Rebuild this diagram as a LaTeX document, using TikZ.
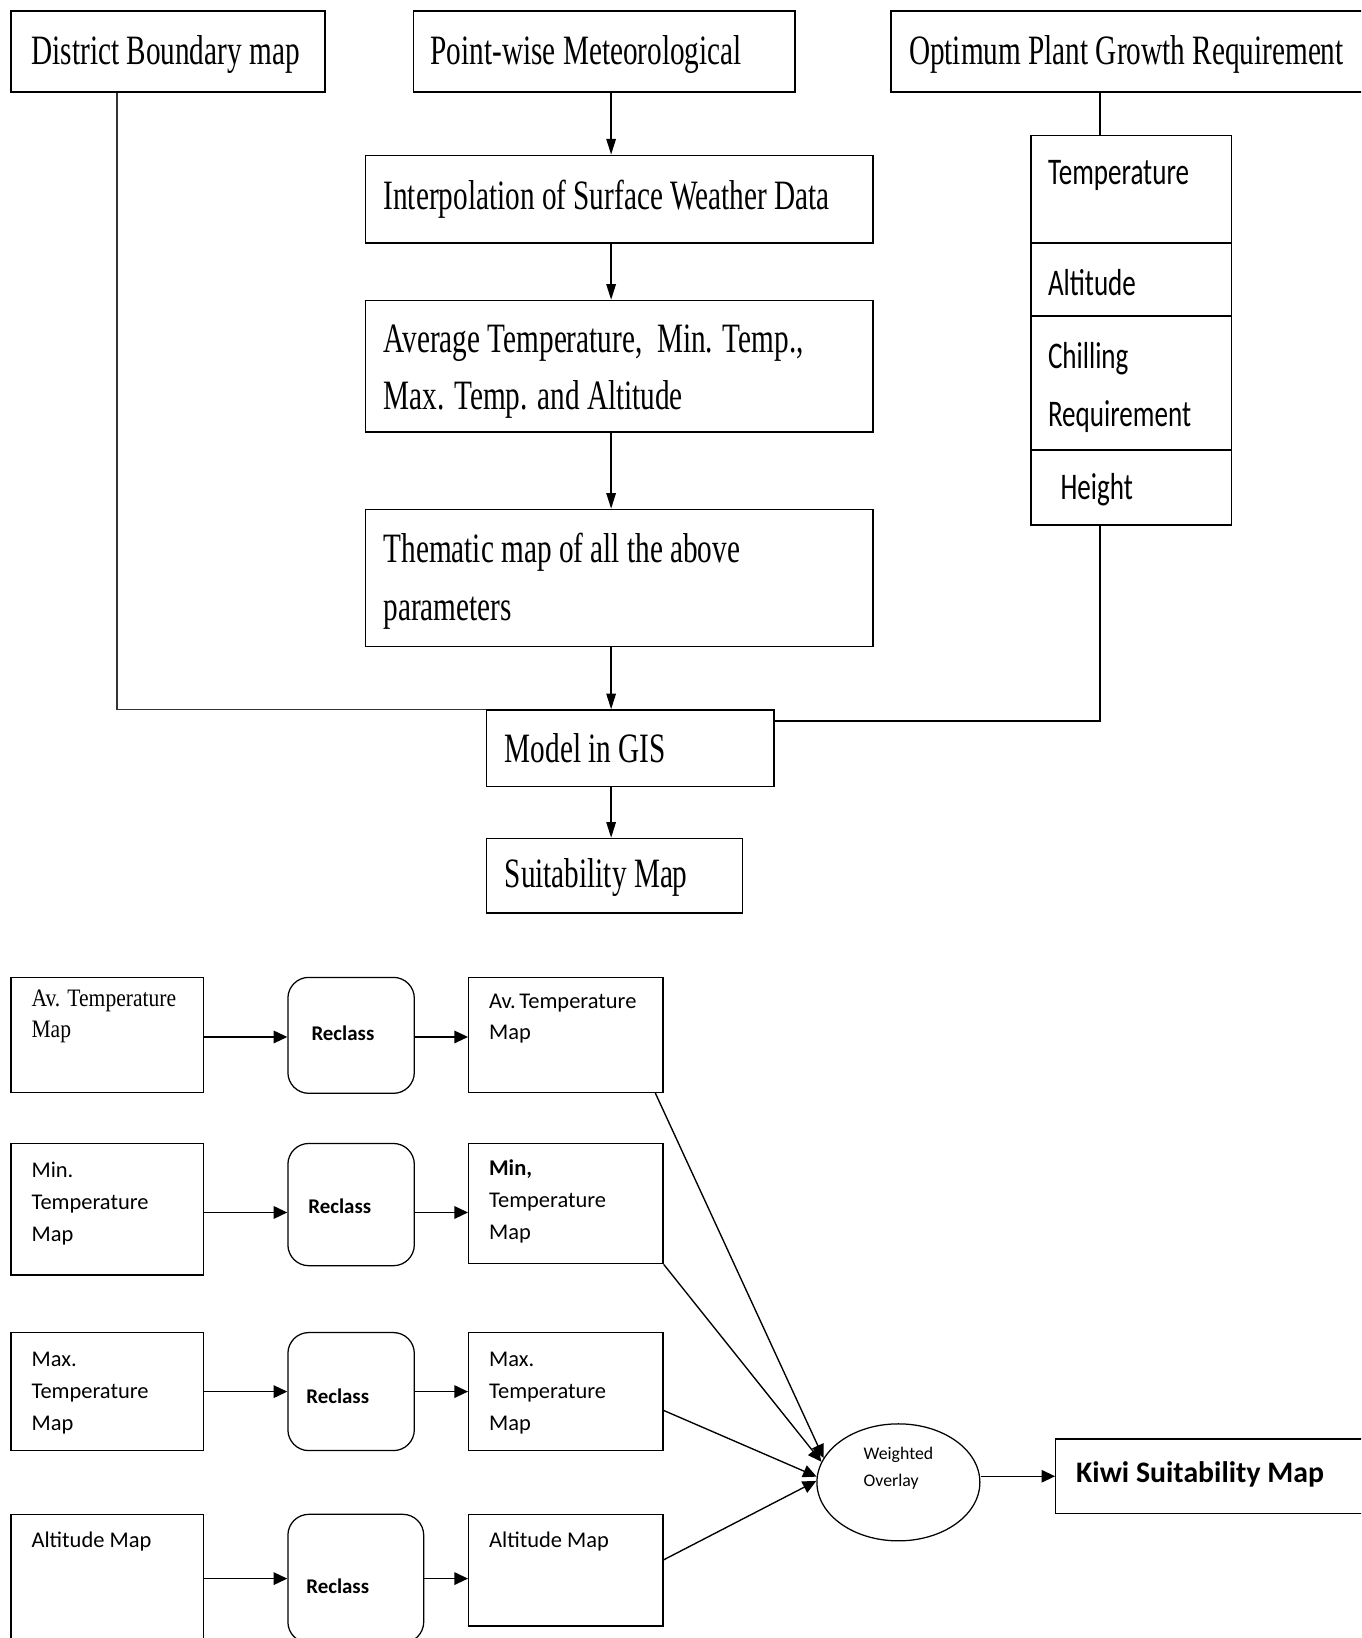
\documentclass[tikz,border=0pt]{standalone}
\usepackage{fontspec}
\usepackage{tikz}
\usetikzlibrary{positioning,arrows.meta,shapes.geometric}
\newfontfamily\narrowserif[FakeStretch=0.7]{Liberation Serif}
\newfontfamily\narrowsans[FakeStretch=0.72]{Carlito}
\newfontfamily\tightserif[FakeStretch=0.86]{Liberation Serif}
\newfontfamily\bodysans{Carlito}

\begin{document}
\begin{tikzpicture}[x=1pt,y=-1pt,
    box/.style={draw,line width=1.6pt,inner sep=0pt,anchor=north west},
    rbox/.style={box,rounded corners=20pt,line width=1.2pt},
    ttl/.style={inner sep=0pt,align=left,anchor=west,
      font=\narrowserif\fontsize{40}{55}\selectfont},
    req/.style={inner sep=0pt,align=left,anchor=west,
      font=\narrowsans\fontsize{36}{55}\selectfont},
    maptxt/.style={inner sep=0pt,align=left,anchor=north west,
      font=\bodysans\fontsize{21.5}{30.5}\selectfont},
    rctxt/.style={inner sep=0pt,anchor=west,
      font=\bodysans\bfseries\fontsize{20}{24}\selectfont},
    arr/.style={line width=1.6pt,-{Triangle[length=15pt,width=9pt]}},
    arrb/.style={line width=1.3pt,-{Triangle[length=13pt,width=12pt]}}]
  \useasboundingbox (0,0) rectangle (1303,1568);
  \clip (0,0) rectangle (1303,1568);

  % upper flow chart
  \coordinate (spine) at (585,0);
  \coordinate (ljoin) at (112,679);
  \coordinate (rjoin) at (1053,690);

  \node[box,minimum width=300pt,minimum height=77pt] (dist) at (10,10) {};
  \node[ttl,right=20pt of dist.west,yshift=-3pt] (distT) {District Boundary map};
  \node[box,minimum width=365pt,minimum height=77pt] (pw) at (395,10) {};
  \node[ttl,right=17pt of pw.west,yshift=-3pt] (pwT) {Point-wise Meteorological};
  \node[box,minimum width=470pt,minimum height=77pt] (opt) at (852,10) {};
  \node[ttl,right=18pt of opt.west,yshift=-3pt] (optT) {Optimum Plant Growth Requirement};

  \node[box,minimum width=486pt,minimum height=84pt] (interp) at (349,148) {};
  \node[ttl,right=18pt of interp.west] (interpT) {Interpolation of Surface Weather Data};
  \node[box,minimum width=486pt,minimum height=126pt] (avg) at (349,287) {};
  \node[ttl,right=18pt of avg.west,yshift=-5pt] (avgT) {Average Temperature,\ \ Min. Temp.,\\Max. Temp. and Altitude};
  \node[box,minimum width=486pt,minimum height=131pt] (them) at (349,487) {};
  \node[ttl,right=18pt of them.west,yshift=-3pt] (themT) {Thematic map of all the above\\parameters};
  \node[box,minimum width=275pt,minimum height=73pt] (model) at (465,679) {};
  \node[ttl,right=18pt of model.west] (modelT) {Model in GIS};
  \node[box,minimum width=245pt,minimum height=71pt] (suit) at (465,802) {};
  \node[ttl,right=18pt of suit.west,yshift=-2pt] (suitT) {Suitability Map};

  % requirement stack
  \node[box,minimum width=192pt,minimum height=103pt] (temp) at (986,129) {};
  \node[req,anchor=north west,below right=24pt and 17pt of temp.north west] (tempT) {Temperature};
  \node[box,minimum width=192pt,minimum height=70pt] (alt) at (986,232) {};
  \node[req,right=17pt of alt.west,yshift=-3pt] (altT) {Altitude};
  \node[box,minimum width=192pt,minimum height=128pt] (chill) at (986,302) {};
  \node[req,right=17pt of chill.west,yshift=-4pt] (chillT) {Chilling\\Requirement};
  \node[box,minimum width=192pt,minimum height=72pt] (hgt) at (986,430) {};
  \node[req,right=29pt of hgt.west,yshift=-2pt] (hgtT) {Height};

  \draw[arr] (pw.south -| spine) -- (interp.north -| spine);
  \draw[arr] (interp.south -| spine) -- (avg.north -| spine);
  \draw[arr] (avg.south -| spine) -- (them.north -| spine);
  \draw[arr] (them.south -| spine) -- (model.north -| spine);
  \draw[arr] (model.south -| spine) -- (suit.north -| spine);
  \draw[line width=1.2pt,black!80] (dist.south -| ljoin) -- (ljoin) -- (model.north west);
  \draw[line width=1.6pt] (opt.south -| rjoin) -- (temp.north -| rjoin);
  \draw[line width=1.6pt] (hgt.south -| rjoin) -- (rjoin) -- (rjoin -| model.east);

  % lower reclass chart
  \node[box,line width=1.3pt,minimum width=184pt,minimum height=110pt] (avin) at (10,935) {};
  \node[maptxt,font=\tightserif\fontsize{24}{30.5}\selectfont,below right=12pt and 20pt of avin.north west] (avinT) {Av. Temperature\\Map};
  \node[rbox,minimum width=121pt,minimum height=111pt] (rc1) at (275,935) {};
  \node[rctxt,right=23pt of rc1.west,yshift=2pt] (rc1T) {Reclass};
  \node[box,line width=1.3pt,minimum width=186pt,minimum height=110pt] (avout) at (448,935) {};
  \node[maptxt,below right=16pt and 20pt of avout.north west] (avoutT) {Av.\,Temperature\\Map};

  \node[box,line width=1.3pt,minimum width=184pt,minimum height=126pt] (minin) at (10,1094) {};
  \node[maptxt,below right=18pt and 20pt of minin.north west] (mininT) {Min.\\Temperature\\Map};
  \node[rbox,minimum width=121pt,minimum height=117pt] (rc2) at (275,1094) {};
  \node[rctxt,right=20pt of rc2.west,yshift=-2pt] (rc2T) {Reclass};
  \node[box,line width=1.3pt,minimum width=186pt,minimum height=115pt] (minout) at (448,1094) {};
  \node[maptxt,below right=16pt and 20pt of minout.north west] (minoutT) {\textbf{Min,}\\Temperature\\Map};

  \node[box,line width=1.3pt,minimum width=184pt,minimum height=113pt] (maxin) at (10,1275) {};
  \node[maptxt,below right=19pt and 20pt of maxin.north west] (maxinT) {Max.\\Temperature\\Map};
  \node[rbox,minimum width=121pt,minimum height=113pt] (rc3) at (275,1275) {};
  \node[rctxt,right=18pt of rc3.west,yshift=-4pt] (rc3T) {Reclass};
  \node[box,line width=1.3pt,minimum width=186pt,minimum height=113pt] (maxout) at (448,1275) {};
  \node[maptxt,below right=19pt and 20pt of maxout.north west] (maxoutT) {Max.\\Temperature\\Map};

  \node[box,line width=1.3pt,minimum width=184pt,minimum height=123pt] (altin) at (10,1449) {};
  \node[maptxt,below right=17pt and 20pt of altin.north west] (altinT) {Altitude Map};
  \node[rbox,minimum width=130pt,minimum height=123pt] (rc4) at (275,1449) {};
  \node[rctxt,right=18pt of rc4.west,yshift=-7pt] (rc4T) {Reclass};
  \node[box,line width=1.3pt,minimum width=186pt,minimum height=107pt] (altout) at (448,1449) {};
  \node[maptxt,below right=17pt and 20pt of altout.north west] (altoutT) {Altitude Map};

  \node[draw,ellipse,line width=1.2pt,minimum width=156pt,minimum height=112pt,align=left,
    font=\bodysans\fontsize{17}{26}\selectfont] (wo) at (860,1419) {Weighted\\Overlay\\[4pt]};
  \node[box,line width=1.3pt,minimum width=300pt,minimum height=71pt] (kiwi) at (1010,1377) {};
  \node[inner sep=0pt,anchor=west,font=\bodysans\bfseries\fontsize{28.5}{34}\selectfont,
    right=20pt of kiwi.west,yshift=2pt] (kiwiT) {Kiwi Suitability Map};

  \draw[arrb] ([yshift=-2pt]avin.east) -- ([yshift=-2pt]avin.east -| rc1.west);
  \draw[arrb] ([yshift=-2pt]avin.east -| rc1.east) -- ([yshift=-2pt]avin.east -| avout.west);
  \draw[arrb] ([yshift=-3pt]minin.east) -- ([yshift=-3pt]minin.east -| rc2.west);
  \draw[arrb] ([yshift=-3pt]minin.east -| rc2.east) -- ([yshift=-3pt]minin.east -| minout.west);
  \draw[arrb] (maxin.east) -- (maxin.east -| rc3.west);
  \draw[arrb] (rc3.east) -- (rc3.east -| maxout.west);
  \draw[arrb] (altin.east) -- (altin.east -| rc4.west);
  \draw[arrb] (rc4.east) -- (rc4.east -| altout.west);

  \draw[arrb] ([xshift=-8pt]avout.south east) -- (wo.162);
  \draw[arrb] (minout.south east) -- (wo.165);
  \draw[arrb] ([yshift=-18pt]maxout.east) -- (wo.176);
  \draw[arrb] ([yshift=10pt]altout.east) -- (wo.179);
  \draw[arrb] (kiwi.west -| wo.east) -- (kiwi.west);
\end{tikzpicture}
\end{document}
